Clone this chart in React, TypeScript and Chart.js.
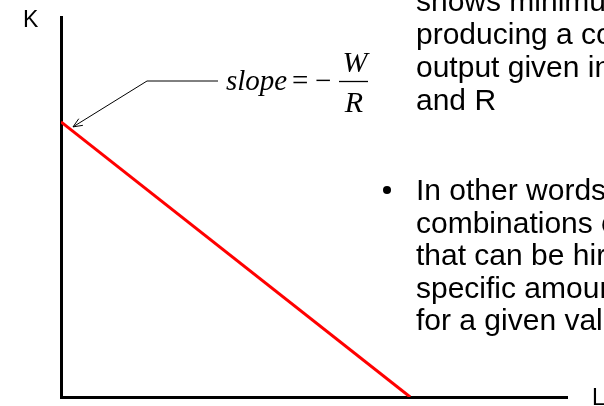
import React, { useEffect, useRef } from "react";
import { Chart, registerables } from "chart.js";

Chart.register(...registerables);

// Isocost line data (axis units are arbitrary)
const L_INTERCEPT = 6.9;
const K_INTERCEPT = 7.24;
const LINE_POINTS = [
  { x: 0, y: K_INTERCEPT },
  { x: L_INTERCEPT, y: 0 },
];
const X_MAX = 10;
const Y_MAX = 10;
const AXIS_X_LABEL = "L";
const AXIS_Y_LABEL = "K";
const FIRST_TEXT_LINES = [
  "shows minimum cost of",
  "producing a constant",
  "output given input prices W",
  "and R",
];
const BULLET_TEXT_LINES = [
  "In other words, the",
  "combinations of L and K",
  "that can be hired for a",
  "specific amount of money",
  "for a given value of W and R",
];

const annotationPlugin = {
  id: "isocostAnnotations",
  afterDraw(chart: any) {
    const ctx = chart.ctx as CanvasRenderingContext2D;
    const xs = chart.scales.x;
    const ys = chart.scales.y;
    ctx.save();

    // Axis labels
    ctx.fillStyle = "#000";
    ctx.font = '23px "Liberation Sans", Arial, sans-serif';
    ctx.textBaseline = "alphabetic";
    ctx.textAlign = "left";
    ctx.fillText(AXIS_Y_LABEL, 23, 27);
    ctx.fillText(AXIS_X_LABEL, 592, 405);

    // Arrow pointing at the K intercept
    const px = xs.getPixelForValue(LINE_POINTS[0].x);
    const py = ys.getPixelForValue(LINE_POINTS[0].y);
    const tipX = px + 12;
    const tipY = py + 5;
    const elbowX = 147;
    const elbowY = 81;
    ctx.strokeStyle = "#000";
    ctx.lineWidth = 1;
    ctx.beginPath();
    ctx.moveTo(218, elbowY);
    ctx.lineTo(elbowX, elbowY);
    ctx.lineTo(tipX, tipY);
    ctx.stroke();
    const ang = Math.atan2(tipY - elbowY, tipX - elbowX);
    const head = 10;
    const spread = 0.4;
    ctx.beginPath();
    ctx.moveTo(tipX - head * Math.cos(ang - spread), tipY - head * Math.sin(ang - spread));
    ctx.lineTo(tipX, tipY);
    ctx.lineTo(tipX - head * Math.cos(ang + spread), tipY - head * Math.sin(ang + spread));
    ctx.stroke();

    // slope = -W/R
    ctx.font = 'italic 29px "Liberation Serif", "Times New Roman", serif';
    ctx.fillText("slope", 226, 90);
    ctx.font = '29px "Liberation Serif", "Times New Roman", serif';
    ctx.fillText("=", 292, 90);
    ctx.fillText("\u2212", 315, 90);
    ctx.lineWidth = 1.3;
    ctx.beginPath();
    ctx.moveTo(339, 81.5);
    ctx.lineTo(368, 81.5);
    ctx.stroke();
    ctx.font = 'italic 30px "Liberation Serif", "Times New Roman", serif';
    ctx.textAlign = "center";
    ctx.fillText("W", 355, 72);
    ctx.fillText("R", 354, 112);

    // Right-hand text
    ctx.textAlign = "left";
    ctx.font = '30px "Liberation Sans", Arial, sans-serif';
    const firstBase = [11, 44, 77, 110];
    FIRST_TEXT_LINES.forEach((t, i) => ctx.fillText(t, 416, firstBase[i]));
    const bulletBase = 200;
    BULLET_TEXT_LINES.forEach((t, i) => ctx.fillText(t, 416, bulletBase + i * 32.5));
    ctx.beginPath();
    ctx.arc(387, 190, 4, 0, Math.PI * 2);
    ctx.fill();

    ctx.restore();
  },
};

export default function App() {
  const ref = useRef<HTMLCanvasElement | null>(null);
  useEffect(() => {
    if (!ref.current) return;
    const chart = new Chart(ref.current, {
      type: "scatter",
      data: {
        datasets: [
          {
            data: LINE_POINTS,
            showLine: true,
            borderColor: "#ff0000",
            backgroundColor: "#ff0000",
            borderWidth: 3,
            pointRadius: 0,
            pointHoverRadius: 0,
          },
        ],
      },
      options: {
        animation: false,
        responsive: false,
        maintainAspectRatio: false,
        devicePixelRatio: 1,
        layout: { padding: { left: 61, top: 17, right: 37, bottom: 9 } },
        plugins: {
          legend: { display: false },
          tooltip: { enabled: false },
          title: { display: false },
        },
        scales: {
          x: {
            type: "linear",
            min: 0,
            max: X_MAX,
            ticks: { display: false },
            grid: { display: false, drawTicks: false },
            border: { display: true, color: "#000", width: 3 },
          },
          y: {
            type: "linear",
            min: 0,
            max: Y_MAX,
            ticks: { display: false },
            grid: { display: false, drawTicks: false },
            border: { display: true, color: "#000", width: 3 },
          },
        },
      },
      plugins: [annotationPlugin],
    });
    return () => chart.destroy();
  }, []);
  return (
    <div style={{ position: "absolute", left: 0, top: 0, width: 604, height: 406, background: "#fff" }}>
      <canvas ref={ref} width={604} height={406} style={{ display: "block", width: 604, height: 406 }} />
    </div>
  );
}
